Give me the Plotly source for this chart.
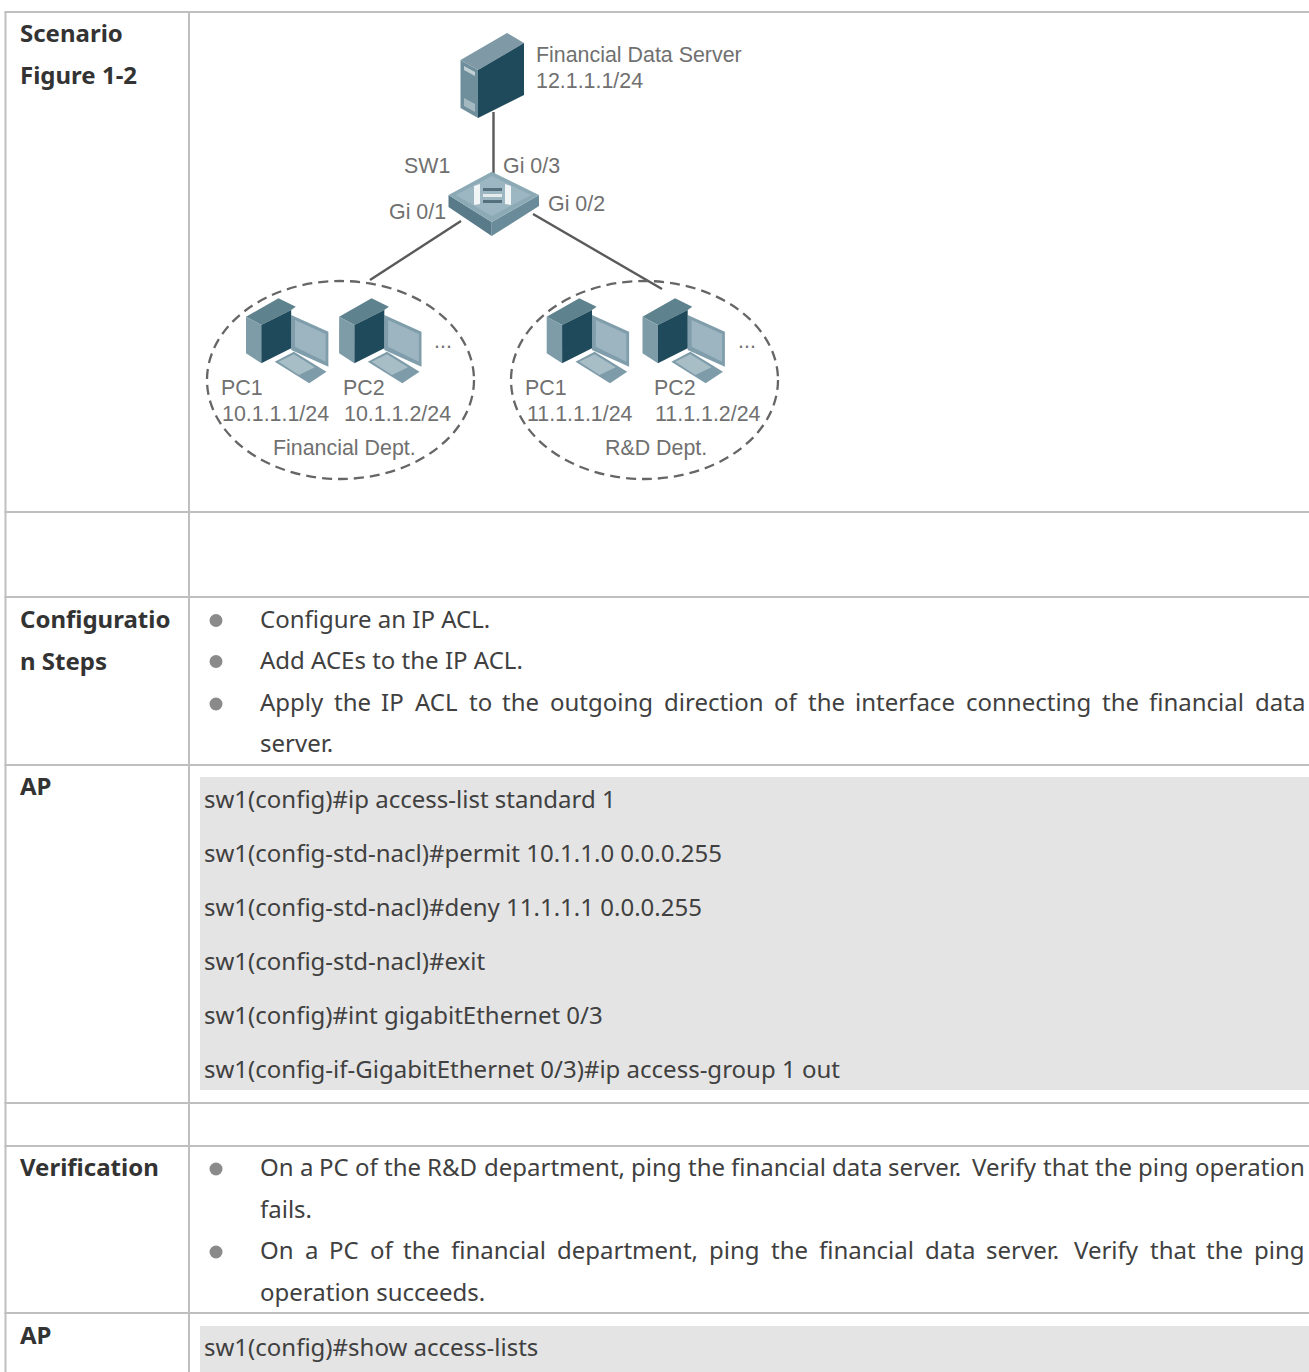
import plotly.graph_objects as go

W, H = 1309, 1372
GRID = "#bfbfbf"
TXT = "#404040"
BOLD = "#333333"
DIAG = "#707070"

# table structure
h_lines = [12, 512, 597, 765, 1103, 1146, 1313]
v_lines = [5.5, 189]
code_blocks = [(200, 777, 1090), (200, 1326, 1372)]

# left column labels
headers = [("Scenario", 34), ("Figure 1-2", 76), ("Configuratio", 620), ("n Steps", 662),
           ("AP", 787.5), ("Verification", 1168), ("AP", 1336.5)]

# plain body lines
body = [(260, 620, "Configure an IP ACL."), (260, 661, "Add ACEs to the IP ACL."),
        (260, 744, "server."), (260, 1210, "fails."), (260, 1293, "operation succeeds.")]

# justified lines of body text
justified = [
    (703, "Apply the IP ACL to the outgoing direction of the interface connecting the financial data"),
    (1168, "On a PC of the R&D department, ping the financial data server. Verify that the ping operation"),
    (1251, "On a PC of the financial department, ping the financial data server. Verify that the ping"),
]
LINE_LEFT, LINE_RIGHT = 260, 1305

# Noto Sans advance widths (em) used to space justified words
ADV = dict(a=.561, c=.48, d=.615, e=.564, f=.344, g=.615, h=.618, i=.258, l=.258, m=.935, n=.618, o=.605,
           p=.615, r=.413, s=.479, t=.361, u=.618, v=.508, y=.51, A=.639, C=.632, D=.73, I=.339, L=.529,
           O=.781, P=.605, R=.622, V=.62)
ADV.update({".": .268, ",": .268, "&": .733})

bullets_y = [620.5, 661.5, 704, 1169, 1252]

code_lines = [(800, "sw1(config)#ip access-list standard 1"),
              (854, "sw1(config-std-nacl)#permit 10.1.1.0 0.0.0.255"),
              (908, "sw1(config-std-nacl)#deny 11.1.1.1 0.0.0.255"),
              (962, "sw1(config-std-nacl)#exit"),
              (1016, "sw1(config)#int gigabitEthernet 0/3"),
              (1070, "sw1(config-if-GigabitEthernet 0/3)#ip access-group 1 out"),
              (1348, "sw1(config)#show access-lists")]

# diagram labels
diagram_labels = [(536, 55, "Financial Data Server"), (536, 81, "12.1.1.1/24"), (404, 166, "SW1"),
                  (503, 166, "Gi 0/3"), (548, 204, "Gi 0/2"), (389, 212, "Gi 0/1"),
                  (221, 388, "PC1"), (343, 388, "PC2"), (222, 414, "10.1.1.1/24"), (344, 414, "10.1.1.2/24"),
                  (273, 448, "Financial Dept."), (525, 388, "PC1"), (654, 388, "PC2"),
                  (527, 414, "11.1.1.1/24"), (655, 414, "11.1.1.2/24"), (605, 448, "R&D Dept."),
                  (434, 341, "..."), (738, 341, "...")]

links = [((493.5, 112), (493.5, 175)), ((461, 221), (370, 280)), ((533, 214), (662, 289))]
ellipses = [(207, 281, 474, 479), (511, 281, 778, 479)]
pc_offsets = [0, 243, 785, 1035]

TEXT_DY = -1.6  # Noto Sans line box sits lower than the measured centre


def zx(v):
    return 200 + v / 2.61


def zy(v):
    return 20 + v / 3


def poly(points, color):
    p = "M" + " L".join(f"{x:.1f},{y:.1f}" for x, y in points) + " Z"
    return dict(type="path", path=p, fillcolor=color, line=dict(width=0), layer="above")


shapes = []
for x0, y0, y1 in code_blocks:
    shapes.append(dict(type="rect", x0=x0, x1=W, y0=y0, y1=y1, fillcolor="#e4e4e4", line=dict(width=0), layer="below"))
for y in h_lines:
    shapes.append(dict(type="line", x0=4.5, x1=W, y0=y, y1=y, line=dict(color=GRID, width=2), layer="below"))
for x in v_lines:
    shapes.append(dict(type="line", x0=x, x1=x, y0=12, y1=H, line=dict(color=GRID, width=2), layer="below"))
for y in bullets_y:
    shapes.append(dict(type="circle", x0=209.5, x1=222.5, y0=y - 6.5, y1=y + 6.5, fillcolor="#8a8a8a", line=dict(width=0), layer="below"))

# links and department ellipses
for (a, b) in links:
    shapes.append(dict(type="line", x0=a[0], y0=a[1], x1=b[0], y1=b[1], line=dict(color="#5a5a5a", width=2.4), layer="below"))
for x0, y0, x1, y1 in ellipses:
    shapes.append(dict(type="circle", x0=x0, y0=y0, x1=x1, y1=y1, line=dict(color="#666666", width=2.3, dash="10px,6px"), layer="below"))

# server
shapes += [
    poly([(460.5, 60), (507, 33), (524, 43), (478, 70)], "#7f9aa6"),
    poly([(460.5, 60), (478, 70), (478, 118), (460.5, 108)], "#6f8f9c"),
    poly([(478, 70), (524, 43), (524, 95), (478, 118)], "#1f4a5c"),
    poly([(464, 66), (475, 72), (475, 76), (464, 70)], "#c2d0d6"),
    poly([(464, 98), (475, 104), (475, 112), (464, 106)], "#a3b8c1"),
]

# switch
shapes += [
    poly([(448.5, 195), (491.7, 222), (491.7, 236), (448.5, 207)], "#587a89"),
    poly([(491.7, 222), (539, 195), (539, 206), (491.7, 236)], "#6a8b99"),
    poly([(448.5, 195), (491.7, 171.7), (539, 195), (491.7, 222)], "#8caab6"),
    poly([(456, 195), (491.7, 176), (531, 195), (491.7, 216)], "#9db7c2"),
    poly([(474, 186), (480, 184), (480, 204), (474, 205)], "#f2f5f6"),
    poly([(505, 184), (511, 186), (511, 205), (505, 204)], "#f2f5f6"),
    poly([(483, 188), (502, 188), (502, 191), (483, 191)], "#55717e"),
    poly([(483, 194), (502, 194), (502, 197), (483, 197)], "#e6ecee"),
    poly([(483, 200), (502, 200), (502, 203), (483, 203)], "#55717e"),
]

# PCs
for off in pc_offsets:
    P = lambda pts: [(zx(a + off), zy(b)) for a, b in pts]
    shapes += [
        poly(P([(238, 885), (335, 935), (335, 1040), (238, 990)]), "#7f9dab"),
        poly(P([(248, 900), (328, 942), (328, 1025), (248, 980)]), "#9db5c0"),
        poly(P([(195, 1025), (245, 995), (330, 1055), (285, 1090)]), "#7d9ba8"),
        poly(P([(205, 1025), (245, 1003), (300, 1042), (258, 1065)]), "#a8bec7"),
        poly(P([(120, 890), (205, 835), (250, 860), (238, 870), (160, 915)]), "#5f828f"),
        poly(P([(120, 890), (160, 915), (160, 1030), (120, 1000)]), "#7e9ca8"),
        poly(P([(160, 915), (238, 870), (238, 985), (160, 1030)]), "#1f4a5c"),
    ]

ann = []


def add(x, y, t, size, color, family, bold=False):
    txt = f"<b>{t}</b>" if bold else t
    ann.append(dict(x=x, y=y, text=txt, xref="x", yref="y", xanchor="left", yanchor="middle", showarrow=False,
                    borderpad=0, borderwidth=0, font=dict(size=size, color=color, family=family)))


def word_width(w, size=24):
    return sum(ADV[c] for c in w) * size


for t, y in headers:
    add(20, y + TEXT_DY, t, 24, BOLD, "Noto Sans", True)
for x, y, t in body:
    add(x, y + TEXT_DY, t, 24, TXT, "Noto Sans")
for y, line in justified:
    words = line.split(" ")
    widths = [word_width(w) for w in words]
    gap = (LINE_RIGHT - LINE_LEFT - sum(widths)) / (len(words) - 1)
    x = LINE_LEFT
    for w, wd in zip(words, widths):
        add(x, y + TEXT_DY, w, 24, TXT, "Noto Sans")
        x += wd + gap
for y, t in code_lines:
    add(204, y + TEXT_DY, t, 24, TXT, "Noto Sans")
for x, y, t in diagram_labels:
    add(x, y, t, 21.4, DIAG, "Liberation Sans")

fig = go.Figure()
fig.update_layout(width=W, height=H, margin=dict(l=0, r=0, t=0, b=0), paper_bgcolor="white", plot_bgcolor="white",
                  showlegend=False, shapes=shapes, annotations=ann,
                  xaxis=dict(range=[0, W], visible=False, fixedrange=True),
                  yaxis=dict(range=[H, 0], visible=False, fixedrange=True))
fig.write_html("out.html", config={"displayModeBar": False}, include_plotlyjs=True,
               default_width=f"{W}px", default_height=f"{H}px",
               post_script="document.body.style.margin='0';document.body.style.overflow='hidden';")
